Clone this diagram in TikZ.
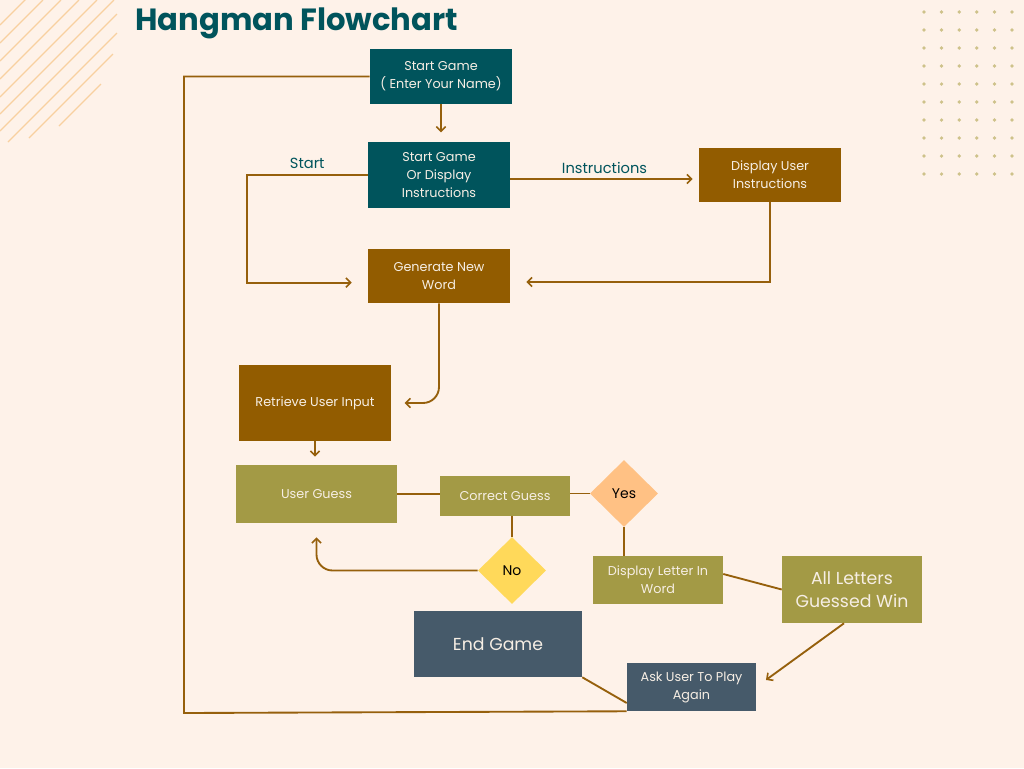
\documentclass[tikz,border=0pt]{standalone}
\usepackage{fontspec}
\setmainfont{Poppins}
\usepackage{tikz}
\usetikzlibrary{shapes.geometric,arrows.meta,positioning,calc}
\usepackage{xcolor}
\definecolor{hangbg}{HTML}{FEF2E9}
\definecolor{hangteal}{HTML}{00545C}
\definecolor{hangbrown}{HTML}{925C00}
\definecolor{hangolive}{HTML}{A39A45}
\definecolor{hangslate}{HTML}{465A6A}
\definecolor{hangpeach}{HTML}{FFC184}
\definecolor{hangyellow}{HTML}{FFD95A}
\definecolor{hangline}{HTML}{96600C}
\definecolor{hangstripe}{HTML}{F8D0A0}
\definecolor{hangdot}{HTML}{CEC28A}
\definecolor{hangtext}{HTML}{F6EEE4}
\tikzset{
    boxT/.style={rectangle, fill=hangteal, text=hangtext, align=center, font=\fontsize{9.6}{13.5}\selectfont, inner sep=2pt},
    boxB/.style={rectangle, fill=hangbrown, text=hangtext, align=center, font=\fontsize{9.6}{13.5}\selectfont, inner sep=2pt},
    boxO/.style={rectangle, fill=hangolive, text=hangtext, align=center, font=\fontsize{9.6}{13.5}\selectfont, inner sep=2pt},
    boxS/.style={rectangle, fill=hangslate, text=hangtext, align=center, font=\fontsize{9.6}{13.5}\selectfont, inner sep=2pt},
    bigtext/.style={font=\fontsize{13}{17.5}\selectfont},
    choiceP/.style={diamond, fill=hangpeach, text=black, inner sep=0pt, font=\fontsize{10.5}{12}\selectfont},
    choiceY/.style={diamond, fill=hangyellow, text=black, inner sep=0pt, font=\fontsize{10.5}{12}\selectfont},
    sz/.style 2 args={minimum width=#1*0.75pt, minimum height=#2*0.75pt},
    link/.style={hangline, line width=1.4pt},
    flow/.style={link, -{Straight Barb[length=3.5pt,width=7pt,line width=1.2pt]}},
    flowlabel/.style={text=hangteal, font=\fontsize{11}{13}\selectfont},
}

\begin{document}
\begin{tikzpicture}[x=0.75pt,y=-0.75pt]
    % background
    \fill[hangbg] (0,0) rectangle (1024,768);
    \useasboundingbox (0,0) rectangle (1024,768);

    % stripes top left
    \foreach \c/\xa/\xb in {25/0/26, 43/0/43, 61/0/61, 79/0/79, 97/0/97, 114/0/114, 131/0/117, 150/8/117, 167/29/113, 185/59/101}
        \draw[hangstripe, line width=0.9pt] (\xa,\c-\xa) -- (\xb,\c-\xb);

    % dots top right
    \foreach \i in {0,...,5}
        \foreach \j in {0,...,9}
            \fill[hangdot] (924+17.6*\i,12+18*\j) circle (1.4pt);

    % title
    \node[anchor=base west, text=hangteal, font=\fontsize{23}{28}\selectfont\bfseries, inner sep=0pt] (title) at (135,30) {Hangman Flowchart};

    % boxes
    \node[boxT, sz={142}{55}] (startgame) at (441,76.5) {Start Game\\( Enter Your Name)};
    \node[boxT, sz={142}{66}] (choice) at (439,175) {Start Game\\Or Display\\Instructions};
    \node[boxB, sz={142}{54}] (showinstr) at (770,175) {Display User\\Instructions};
    \node[boxB, sz={142}{54}] (genword) at (439,276) {Generate New\\Word};
    \node[boxB, sz={152}{76}] (getinput) at (315,403) {Retrieve User Input};
    \node[boxO, sz={161}{58}] (guess) at (316.5,494) {User Guess};
    \node[boxO, sz={130}{40}] (correct) at (505,496) {Correct Guess};
    \node[choiceP, sz={68}{67}] (yes) at (624,493.5) {Yes};
    \node[choiceY, sz={68}{67}] (no) at (512,570.5) {No};
    \node[boxO, sz={130}{48}] (showletter) at (658,580) {Display Letter In\\Word};
    \node[boxO, bigtext, sz={140}{67}] (allwin) at (852,589.5) {All Letters\\Guessed Win};
    \node[boxS, bigtext, sz={168}{66}] (endgame) at (498,644) {End Game};
    \node[boxS, sz={129}{48}] (again) at (691.5,687) {Ask User To Play\\Again};

    % loop back to start
    \coordinate (loopc) at (184,713);
    \draw[link] (startgame.west) -| (loopc) -- (again.south west);
    \draw[link] (endgame.south east) -- ([yshift=-12pt]again.west);

    % top part
    \draw[flow, shorten >=7pt] (startgame.south) -- (startgame.south |- choice.north);
    \draw[flow, shorten >=12pt] (choice.west) -- node[flowlabel, above=1pt] {Start} ++(-121,0) |- ([yshift=-5pt]genword.west);
    \draw[flow, shorten >=4.5pt] ([yshift=-3pt]choice.east) -- node[flowlabel, above] {Instructions} ([yshift=-3pt]choice.east -| showinstr.west);
    \draw[flow, shorten >=12pt] (showinstr.south) |- ([yshift=-4.5pt]genword.east);
    \draw[flow, rounded corners=12pt, shorten >=10pt] (genword.south) |- (getinput.east);
    \draw[flow, shorten >=6pt] (getinput.south) -- (getinput.south |- guess.north);

    % guessing
    \draw[link] (guess.east) -- (guess.east -| correct.west);
    \draw[link] (correct.east |- yes.west) -- (yes.west);
    \draw[link] (yes.south) -- (yes.south |- showletter.north);
    \draw[link] (no.north |- correct.south) -- (no.north);
    \draw[flow, rounded corners=12pt, shorten >=10.5pt] (no.west) -| (guess.south);
    \draw[link] ([yshift=4.5pt]showletter.east) -- (allwin.west);
    \draw[flow, shorten >=9pt] ([xshift=-6pt]allwin.south) -- (again.east);
\end{tikzpicture}
\end{document}
